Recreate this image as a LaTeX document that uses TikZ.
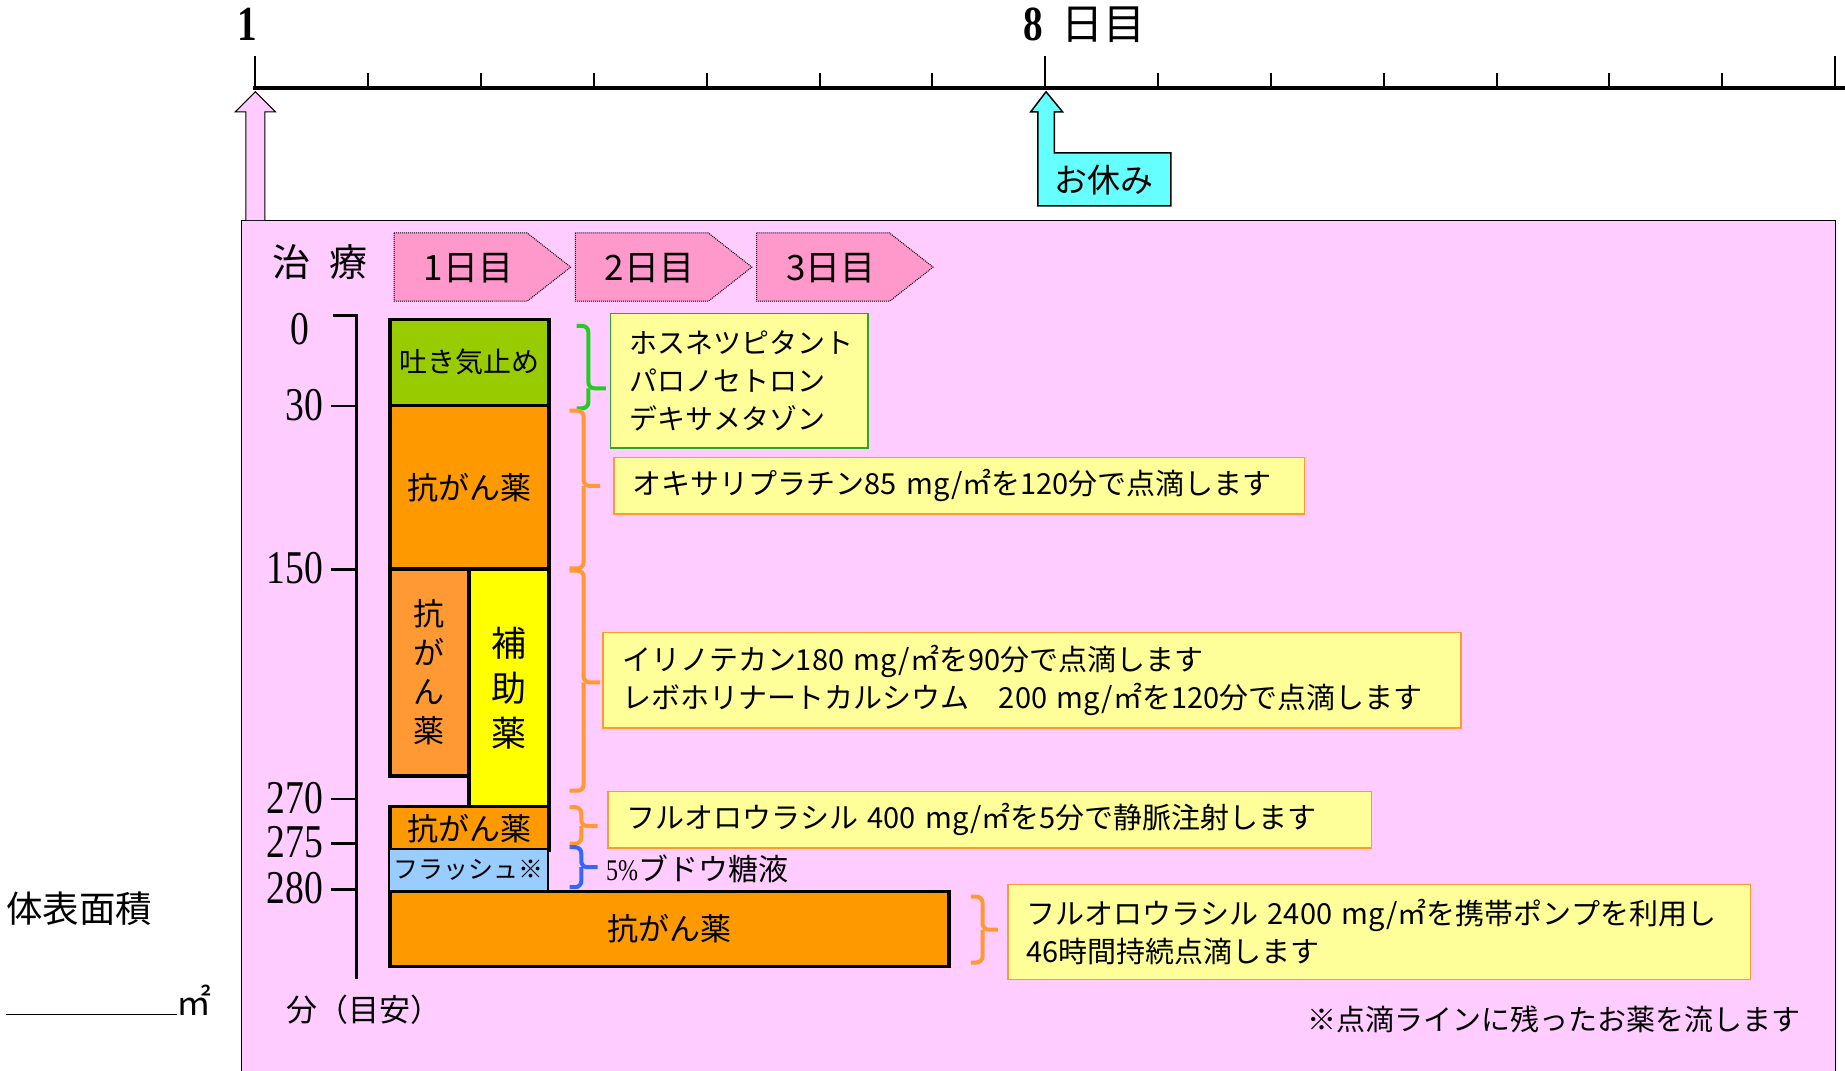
\documentclass[tikz,border=0pt]{standalone}
\usepackage{fontspec}
\setmainfont{Noto Sans CJK JP}
\newfontfamily\serifnum[FakeStretch=0.8]{Liberation Serif}
\usetikzlibrary{positioning}

\definecolor{bgpink}{HTML}{FFCCFF}
\definecolor{daypink}{HTML}{FF99CC}
\definecolor{antiemetic}{HTML}{99CC00}
\definecolor{drug}{HTML}{FF9900}
\definecolor{drugpale}{HTML}{FF9933}
\definecolor{helper}{HTML}{FFFF00}
\definecolor{flush}{HTML}{99CCFF}
\definecolor{memo}{HTML}{FFFF99}
\definecolor{memoline}{HTML}{FF9933}
\definecolor{greenline}{HTML}{33A033}
\definecolor{greenbrace}{HTML}{22CC22}
\definecolor{bluebrace}{HTML}{3366FF}
\definecolor{rest}{HTML}{66FFFF}

\newcommand\fsz[2]{\fontsize{#1pt}{#2pt}\selectfont}
% colour, x0, xm, xt, top, tip, bottom
\newcommand\curlybrace[7]{%
  \draw[curly, #1] (#2,#5) -- (#3,#5) -- (#3,#6) -- (#4,#6);
  \draw[curly, #1] (#2,#7) -- (#3,#7) -- (#3,#6);}

\begin{document}
\begin{tikzpicture}[x=1.1767pt, y=-1.1767pt,
    tick/.style={line width=2pt},
    dose/.style={draw, line width=3.5pt, inner sep=0pt, anchor=north west, font=\fsz{31}{37}},
    memo/.style={draw=memoline, line width=1.5pt, fill=memo, anchor=north west, align=left,
      inner xsep=18.8pt, inner ysep=0pt, font=\fsz{29}{38}},
    curly/.style={line width=4pt, rounded corners=6pt},
    daytab/.style={draw, densely dotted, fill=daypink, line width=1pt},
    axisnum/.style={anchor=east, inner sep=0pt, font=\serifnum\fsz{47}{49}}]
\useasboundingbox (0,0) rectangle (1568,910);

% calendar
\draw[line width=3.5pt] (215,75) -- (1568,75);
\foreach \d in {1,...,13} \draw[tick] ({217+\d*95.9},62) -- ({217+\d*95.9},75);
\foreach \d in {0,7,14} \draw[tick] ({217+\d*95.9},48) -- ({217+\d*95.9},75);
\node[font=\serifnum\bfseries\fsz{49}{50}] (first) at (210,21) {1};
\node[font=\serifnum\bfseries\fsz{49}{50}] (eighth) at (878,21) {8};
\node[font=\fsz{42}{44}, right=12pt of eighth] (dayword) {日目};

% background panel and arrows
\draw[fill=bgpink, line width=1pt] (205,187) rectangle (1560,915);
\draw[fill=bgpink, line width=1pt] (209,187) -- (209,95) -- (200,95) -- (217,78) -- (234,95) -- (225,95) -- (225,187);
\draw[fill=rest, line width=1.5pt] (882,175) -- (882,95) -- (876,95) -- (889,78) -- (903,95) -- (896,95)
  -- (896,130) -- (995,130) -- (995,175) -- cycle;
\node[font=\fsz{33}{36}] (rest) at (938,153) {お休み};

% treatment days
\node[font=\fsz{38}{40}] (treat) at (272,223) {治\hspace{0.5em}療};
\foreach \d/\x in {1/335,2/489,3/643} {
  \draw[daytab] (\x,198) -- ++(113,0) -- ++(37,29) -- ++(-37,29) -- ++(-113,0) -- cycle;
  \node[font=\fsz{35}{37}] (tab\d) at (\x+63,228) {{\d}日目};
}

% time axis
\draw[line width=2.5pt] (283,268) -- (303,268) -- (303,832);
\node[axisnum] (t0) at (263,280) {0};
\foreach \y/\t in {345/30,484/150,679/270,717/275,756/280} {
  \draw[line width=2.5pt] (281,\y) -- (303,\y);
  \node[axisnum] (t\t) at (275,\y-1) {\t};
}
\node[font=\fsz{31}{33}] (unit) at (309,858) {分（目安）};

% infusion blocks
\node[dose, fill=antiemetic, minimum width=158.9pt, minimum height=85.9pt, font=\fsz{28}{30}] (antiem) at (330,270) {吐き気止め};
\node[dose, fill=drug, minimum width=158.9pt, minimum height=163.6pt] (oxali) at (330,343) {抗がん薬};
\node[dose, fill=drugpale, minimum width=78.8pt, minimum height=207.1pt, align=center, font=\fsz{31}{39}] (irino) at (330,482) {抗\\が\\ん\\薬};
\node[dose, fill=helper, minimum width=80pt, minimum height=237.7pt, align=center, font=\fsz{35}{45}] (levo) at (397,482) {補\\助\\薬};
\node[dose, fill=drug, minimum width=158.9pt, minimum height=43.5pt] (bolus) at (330,684) {抗がん薬};
\node[dose, fill=flush, line width=2pt, minimum width=158.9pt, minimum height=41.2pt, font=\fsz{25}{27}] (flush) at (330,721) {フラッシュ※};
\node[dose, fill=drug, minimum width=559pt, minimum height=75.3pt] (pump) at (330,756) {抗がん薬};

% braces
\curlybrace{greenbrace}{490}{500}{515}{277}{330}{347}
\curlybrace{memoline}{484}{496}{510}{349}{413}{483}
\curlybrace{memoline}{484}{496}{510}{485}{580}{672}
\curlybrace{memoline}{484}{494}{508}{686}{702}{717}
\curlybrace{bluebrace}{484}{494}{508}{720}{737}{754}
\curlybrace{memoline}{825}{835}{848}{762}{790}{818}

% notes
\node[memo, draw=greenline, text width=220pt, minimum height=134.1pt, font=\fsz{28}{38}] (antiemnote) at (518,266)
  {ホスネツピタント\\パロノセトロン\\デキサメタゾン};
\node[memo, text width=653pt, minimum height=56.5pt] (oxalinote) at (521,388)
  {オキサリプラチン85 mg/㎡を120分で点滴します};
\node[memo, text width=820pt, minimum height=95.3pt] (irinonote) at (512,537)
  {イリノテカン180 mg/㎡を90分で点滴します\\レボホリナートカルシウム　200 mg/㎡を120分で点滴します};
\node[memo, text width=726pt, minimum height=56.5pt] (bolusnote) at (516,672)
  {フルオロウラシル 400 mg/㎡を5分で静脈注射します};
\node[anchor=west, inner sep=0pt, font=\fsz{30}{32}] (flushnote) at (515,738) {{\serifnum 5\%}ブドウ糖液};
\node[memo, text width=705pt, minimum height=95.3pt] (pumpnote) at (856,751)
  {フルオロウラシル 2400 mg/㎡を携帯ポンプを利用し\\46時間持続点滴します};
\node[anchor=east, inner sep=0pt, font=\fsz{29}{31}] (footnote) at (1530,866) {※点滴ラインに残ったお薬を流します};

% body surface area
\node[anchor=west, inner sep=0pt, font=\fsz{36.5}{38}] (bsa) at (5,772) {体表面積};
\draw[line width=1.5pt] (5,862) -- (150,862);
\node[anchor=west, inner sep=0pt, font=\fsz{35}{37}] (sqm) at (150,850) {㎡};
\end{tikzpicture}
\end{document}
